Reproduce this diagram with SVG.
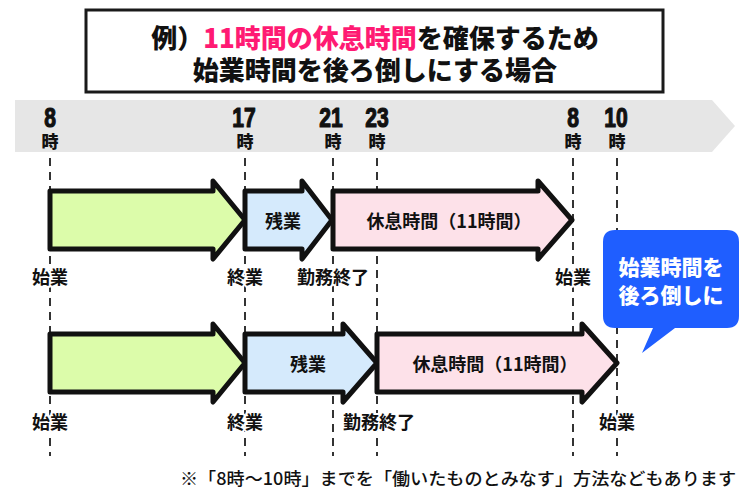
<svg xmlns="http://www.w3.org/2000/svg" width="750" height="500" viewBox="0 0 750 500">
<style>
.jp{font-family:"Noto Sans CJK JP","Noto Sans",sans-serif}
.title{font-size:26px;font-weight:900;fill:#111;text-anchor:middle}
.num{font-family:"Liberation Sans",Arial,sans-serif;font-size:27px;font-weight:700;fill:#111;text-anchor:middle;stroke:#111;stroke-width:1.2;stroke-linejoin:round}
.ji{font-size:17px;font-weight:900;fill:#111;text-anchor:middle}
.dash{stroke:#333;stroke-width:2;stroke-dasharray:8 6;fill:none}
.arrow{stroke:#111;stroke-width:5;stroke-linejoin:round}
.lbl{font-size:18px;font-weight:700;fill:#111;text-anchor:middle}
.under{font-size:18px;font-weight:700;fill:#111;text-anchor:middle;stroke:#fff;stroke-width:4;paint-order:stroke;stroke-linejoin:round}
.call{font-size:21px;font-weight:900;fill:#fff;text-anchor:middle}
.note{font-size:17.5px;font-weight:500;fill:#111}
</style>
<rect width="750" height="500" fill="#fff"/>
<g id="title">
<rect x="86" y="10" width="577" height="82" fill="#fff" stroke="#1a1a1a" stroke-width="3"/>
<text class="jp title" x="375" y="48">例）<tspan fill="#ff1a73">11時間の休息時間</tspan>を確保するため</text>
<text class="jp title" x="375" y="80">始業時間を後ろ倒しにする場合</text>
</g>
<g id="timeline">
<path d="M15,100 H712 L735,126 L712,152 H15 Z" fill="#e6e6e6"/>
<text class="num" transform="translate(50 127) scale(0.78 1)">8</text>
<text class="jp ji" x="50" y="148">時</text>
<text class="num" transform="translate(244 127) scale(0.78 1)">17</text>
<text class="jp ji" x="245" y="148">時</text>
<text class="num" transform="translate(331 127) scale(0.78 1)">21</text>
<text class="jp ji" x="333" y="148">時</text>
<text class="num" transform="translate(377 127) scale(0.78 1)">23</text>
<text class="jp ji" x="377" y="148">時</text>
<text class="num" transform="translate(573 127) scale(0.78 1)">8</text>
<text class="jp ji" x="573" y="148">時</text>
<text class="num" transform="translate(616 127) scale(0.78 1)">10</text>
<text class="jp ji" x="617" y="148">時</text>
</g>
<g id="connectors">
<line class="dash" x1="50" y1="158" x2="50" y2="456"/>
<line class="dash" x1="245" y1="158" x2="245" y2="456"/>
<line class="dash" x1="333" y1="158" x2="333" y2="456"/>
<line class="dash" x1="377" y1="158" x2="377" y2="456"/>
<line class="dash" x1="573" y1="158" x2="573" y2="456"/>
<line class="dash" x1="617" y1="158" x2="617" y2="456"/>
</g>
<g id="row1">
<g id="r1-work"><path class="arrow" d="M50,191 H213 V181 L245,220 L213,259 V249 H50 Z" fill="#dcfcaa"/></g>
<g id="r1-over"><path class="arrow" d="M245,191 H302 V181 L332,220 L302,259 V249 H245 Z" fill="#d5eafc"/>
<text class="jp lbl" x="283" y="228">残業</text></g>
<g id="r1-rest"><path class="arrow" d="M333,191 H538 V181 L572,220 L538,259 V249 H333 Z" fill="#fde1e9"/>
<text class="jp lbl" x="449" y="228">休息時間（11時間）</text></g>
<text class="jp under" x="50" y="284">始業</text>
<text class="jp under" x="245" y="284">終業</text>
<text class="jp under" x="333" y="284">勤務終了</text>
<text class="jp under" x="573" y="284">始業</text>
</g>
<g id="row2">
<g id="r2-work"><path class="arrow" d="M50,334 H213 V324 L245,363 L213,402 V392 H50 Z" fill="#dcfcaa"/></g>
<g id="r2-over"><path class="arrow" d="M245,334 H343 V324 L377,363 L343,402 V392 H245 Z" fill="#d5eafc"/>
<text class="jp lbl" x="308" y="371">残業</text></g>
<g id="r2-rest"><path class="arrow" d="M377,334 H582 V324 L617,363 L582,402 V392 H377 Z" fill="#fde1e9"/>
<text class="jp lbl" x="495" y="371">休息時間（11時間）</text></g>
<text class="jp under" x="50" y="429">始業</text>
<text class="jp under" x="245" y="429">終業</text>
<text class="jp under" x="379" y="429">勤務終了</text>
<text class="jp under" x="617" y="429">始業</text>
</g>
<g id="callout">
<path d="M615,230 H727 Q739,230 739,242 V316 Q739,328 727,328 H675 L642,353 L653,328 H615 Q603,328 603,316 V242 Q603,230 615,230 Z" fill="#1f5eff"/>
<text class="jp call" x="671" y="275">始業時間を</text>
<text class="jp call" x="671" y="303">後ろ倒しに</text>
</g>
<text class="jp note" x="180" y="485" textLength="556" lengthAdjust="spacingAndGlyphs">※「8時～10時」までを「働いたものとみなす」方法などもあります</text>
</svg>
